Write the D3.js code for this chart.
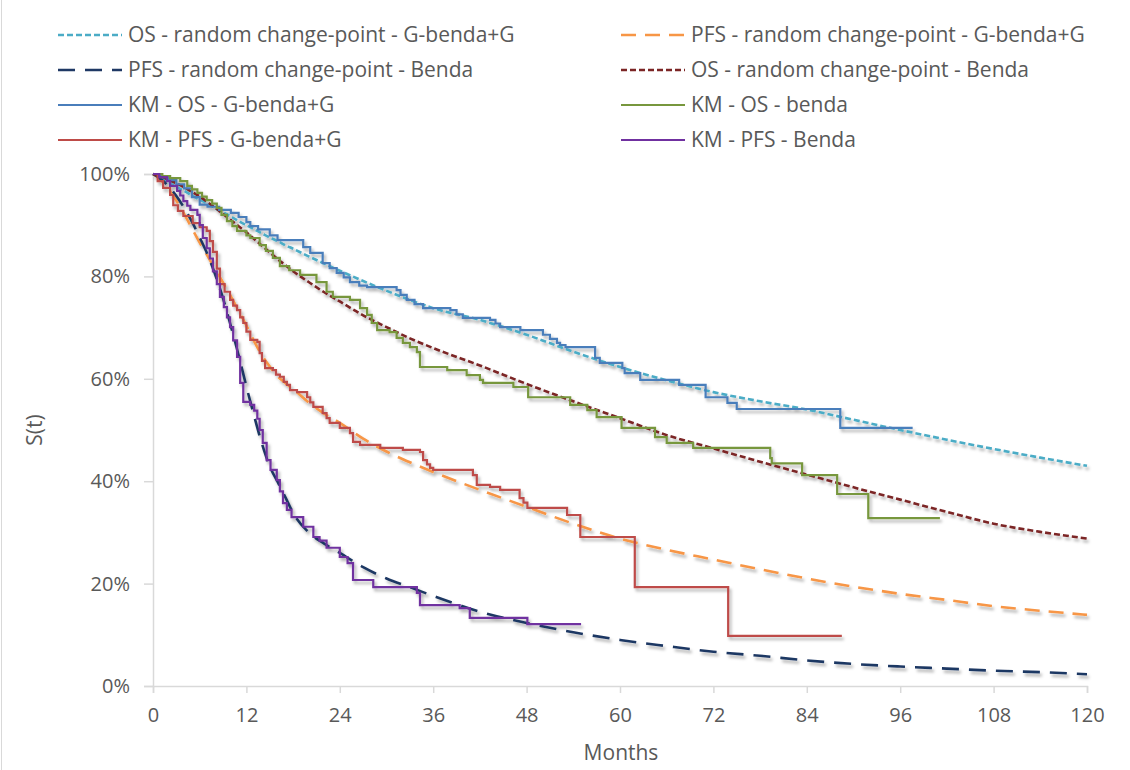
<!DOCTYPE html>
<html><head><meta charset="utf-8">
<script src="https://cdn.jsdelivr.net/npm/d3@7"></script>
<style>
body{margin:0;background:#fff;}
svg{display:block;font-family:"Open Sans","Noto Sans",sans-serif;}
</style></head>
<body><svg id="c" width="1130" height="770"></svg>
<script>
// ---- data ----
const fitMonths = [0,1,2,3,4,5,6,7,8,9,10,11,12,13,14,15,16,17,18,20,22,24,27,30,33,36,42,48,54,60,66,72,78,84,90,96,102,108,114,120];
const osFitGbg  = [100,99.2,98.4,97.5,96.7,95.8,95.0,94.2,93.3,92.5,91.7,90.8,90.0,89.2,88.4,87.6,86.9,86.1,85.4,83.9,82.5,81.1,79.1,77.2,75.4,73.8,71.5,68.6,65.3,62.3,59.7,57.4,55.6,54.0,52.0,50.0,48.1,46.3,44.6,43.0];
const pfsFitGbg = [100,98.8,97.0,94.8,92.2,89.4,86.6,84.0,81.4,78.8,76.1,73.3,70.4,67.3,64.6,62.4,60.5,59.2,58.0,55.4,53.2,51.4,48.3,45.8,43.7,41.8,38.3,35.0,31.7,28.8,26.6,24.7,22.8,21.0,19.4,18.0,16.8,15.6,14.7,13.9];
const pfsFitBenda = [100,99.0,97.6,95.7,93.4,90.7,87.6,84.3,80.3,75.7,70.3,64.6,58.5,52.7,47.3,42.9,39.9,36.9,33.8,30.0,27.8,26.0,23.2,21.0,19.3,17.6,14.5,12.3,10.5,9.0,7.8,6.7,5.9,5.0,4.3,3.8,3.4,3.0,2.7,2.3];
const osFitBenda = [100,99.5,98.9,98.2,97.4,96.5,95.6,94.5,93.4,92.2,91.0,89.8,88.6,87.3,86.0,84.7,83.4,82.2,81.0,78.9,76.9,75.1,72.4,70.1,67.9,66.0,62.6,59.0,55.6,52.3,49.0,46.4,43.8,41.3,38.8,36.4,34.0,31.7,30.1,28.8];

// Kaplan-Meier steps: [month, survival %]
const kmOsGbg = [[0,100],[1,99.4],[2,98.8],[3,98],[4,97.2],[5,95.5],[6,94],[7,93.6],[8.5,93],[10,92.4],[11,91.6],[12,90.6],[12.5,89.8],[13.5,89.2],[15,88],[16,87.1],[19.3,85.7],[20.2,84.6],[21.8,82.6],[22.7,81.6],[23.6,80.7],[24.5,79.8],[25.3,78.9],[26.5,78.2],[27.5,77.9],[31.3,77.3],[31.8,76.4],[32.6,75.4],[33.6,74.6],[34.7,73.8],[38.2,73.4],[39,72.6],[39.8,71.9],[43.3,71.5],[44,70.8],[44.6,70.1],[47.2,69.5],[50.1,68.6],[51,67.8],[51.9,67],[52.3,66.6],[53,66.2],[56.8,64.1],[57.4,63.1],[60.3,62.1],[60.6,61.1],[62.6,59.8],[67.6,58.8],[71,56.4],[73.8,55.3],[75,54.1],[88.3,50.4],[97.6,50.4]];
const kmOsBenda = [[0,100],[1.2,99.6],[2.2,99.2],[3.5,98.6],[4.4,97.7],[5,97],[5.7,96.3],[6.3,95.6],[6.9,94.9],[7.6,94.2],[8.2,93.4],[8.8,92],[9.5,90.8],[10.2,89.8],[10.8,88.9],[12,88],[12.5,87.5],[13.7,86.1],[14.5,85],[15.4,83.6],[16.3,82],[17.5,81.2],[18.9,80.3],[21,78.9],[22.3,77],[23.1,76],[25.3,75.4],[26.6,73.8],[27.5,72.5],[28.1,70.9],[28.8,69.5],[30.4,69.1],[31.3,68],[32.1,67],[33,66.2],[33.9,65.2],[34.3,62.3],[37.8,61.7],[40.3,60.7],[42,59.8],[42.4,59.2],[46.3,58.4],[48.2,56.4],[53.6,54.9],[55.8,53.9],[57,52.5],[60.2,50.4],[64.5,48.6],[66,47.5],[69.4,46.5],[79.3,44.5],[79.5,43.5],[83.4,41.2],[87.9,37.5],[91.9,32.8],[101.1,32.8]];
const kmPfsGbg = [[0,100],[0.6,98.6],[1.3,97.3],[2.2,95.9],[2.6,93.9],[3.2,92.8],[3.9,91.8],[5.1,90.4],[6,89.6],[6.9,88.9],[7.3,86.9],[7.7,84.8],[8.2,81.5],[8.6,78.5],[9.2,77],[9.9,75.4],[10.3,74.3],[10.8,73.4],[11.2,72],[11.6,70.9],[12,69.2],[12.5,67.6],[13.4,67.2],[13.7,65],[14,63.5],[14.4,62.1],[15.4,61.7],[15.8,60.8],[16.3,60.4],[16.8,59.4],[17.2,58.8],[17.6,57.8],[18.5,57.4],[19.8,56.4],[20.2,55.4],[20.6,54.5],[21.8,53.3],[22.3,52.3],[22.7,51.4],[24,50.4],[25.3,49.4],[25.7,47.7],[26.6,47.1],[29.2,46.5],[32.1,46.1],[34.3,45.7],[34.7,44.1],[35.2,43.3],[35.6,42.6],[36,42.2],[41.1,41.2],[41.6,39.3],[43.3,38.9],[44.6,38.3],[47.1,36.7],[47.6,35.8],[48.1,34.8],[53.2,33.4],[54.9,29.1],[61.9,19.3],[73.9,9.8],[88.5,9.8]];
const kmPfsBenda = [[0,100],[0.8,99.4],[1.8,98.6],[2.2,97.7],[3.1,96.7],[3.5,95.8],[3.9,94.7],[4.4,93.8],[4.8,93],[5.7,92],[6,90],[6.4,87.5],[6.9,85.5],[7.3,83.5],[7.7,81],[8.2,78.5],[8.6,76],[9.1,74],[9.5,72],[9.9,70.1],[10.3,67.5],[10.8,64.3],[11.2,59.2],[11.6,55.5],[12.5,54.9],[13,53.8],[13.4,52.2],[13.7,50],[14.1,47.5],[14.6,44.1],[15.1,42.2],[15.9,40.2],[16.3,38],[16.7,35.7],[17.2,34.4],[17.8,33],[19.3,31.1],[20.6,29.1],[21.4,28.4],[22.3,27],[24,25.2],[25,24],[25.7,20.7],[28.3,19.3],[33.9,18.2],[34.3,15.8],[39.4,15.2],[40.7,13.3],[48.1,12.1],[55,12.1]];

const xTicks = [0,12,24,36,48,60,72,84,96,108,120];
const yTicks = [0,20,40,60,80,100];
const seriesNames = ["OS - random change-point - G-benda+G","PFS - random change-point - G-benda+G","PFS - random change-point - Benda","OS - random change-point - Benda","KM - OS - G-benda+G","KM - OS - benda","KM - PFS - G-benda+G","KM - PFS - Benda"];

// ---- chart ----
const svg = d3.select("#c");
const x = d3.scaleLinear().domain([0,120]).range([153,1087]);
const y = d3.scaleLinear().domain([0,100]).range([686,174]);

const defs = svg.append("defs");
const f = defs.append("filter").attr("id","sh").attr("x","-5%").attr("y","-5%").attr("width","110%").attr("height","115%");
f.append("feDropShadow").attr("dx",2).attr("dy",3).attr("stdDeviation",1.8).attr("flood-color","#000").attr("flood-opacity",0.3);

svg.append("line").attr("x1",1.5).attr("x2",1.5).attr("y1",0).attr("y2",770).attr("stroke","#d9d9d9").attr("stroke-width",1);

// axes
const gx = svg.append("g").attr("transform","translate(0,686)")
  .call(d3.axisBottom(x).tickValues(xTicks).tickSize(7).tickPadding(15).tickFormat(d3.format("d")));
const gy = svg.append("g").attr("transform","translate(153,0)")
  .call(d3.axisLeft(y).tickValues(yTicks).tickSize(9).tickPadding(14).tickFormat(d=>d+"%"));
[gx,gy].forEach(g=>{
  g.select(".domain").attr("stroke","#d9d9d9").attr("stroke-width",1.5);
  g.selectAll(".tick line").attr("stroke","#d9d9d9").attr("stroke-width",1.5);
  g.selectAll(".tick text").attr("fill","#595959").attr("font-size",20).attr("font-family","Open Sans, sans-serif");
});

svg.append("text").attr("x",621).attr("y",760).attr("text-anchor","middle").attr("fill","#595959").attr("font-size",21).text("Months");
svg.append("text").attr("transform","translate(42,430) rotate(-90)").attr("text-anchor","middle").attr("fill","#595959").attr("font-size",21).text("S(t)");

const smooth = d3.line().x(d=>x(d[0])).y(d=>y(d[1])).curve(d3.curveMonotoneX);
const step = d3.line().x(d=>x(d[0])).y(d=>y(d[1])).curve(d3.curveStepAfter);
const zip = vals => fitMonths.map((m,i)=>[m,vals[i]]);

const styles = [
  {data:zip(osFitGbg), gen:smooth, color:"#4bacc6", w:2.6, dash:"6,3"},
  {data:zip(pfsFitGbg), gen:smooth, color:"#f79646", w:2.6, dash:"15,9"},
  {data:zip(pfsFitBenda), gen:smooth, color:"#1f3864", w:2.6, dash:"17,10"},
  {data:zip(osFitBenda), gen:smooth, color:"#7b2525", w:2.6, dash:"6,3"},
  {data:kmOsGbg, gen:step, color:"#4a7ebb", w:2.2, dash:null},
  {data:kmOsBenda, gen:step, color:"#77973d", w:2.2, dash:null},
  {data:kmPfsGbg, gen:step, color:"#be4b48", w:2.2, dash:null},
  {data:kmPfsBenda, gen:step, color:"#7030a0", w:2.2, dash:null}
];

const plot = svg.append("g").attr("filter","url(#sh)");
styles.forEach(s=>{
  plot.append("path").attr("d",s.gen(s.data)).attr("fill","none")
    .attr("stroke",s.color).attr("stroke-width",s.w)
    .attr("stroke-dasharray",s.dash).attr("stroke-linejoin","miter");
});

// legend
const legPos = [[58,35],[621,35],[58,70],[621,70],[58,105],[621,105],[58,140],[621,140]];
const leg = svg.append("g");
styles.forEach((s,i)=>{
  const [lx,ly] = legPos[i];
  leg.append("line").attr("x1",lx).attr("x2",lx+64).attr("y1",ly).attr("y2",ly)
    .attr("stroke",s.color).attr("stroke-width",s.w).attr("stroke-dasharray",s.dash);
  leg.append("text").attr("x",lx+70).attr("y",ly).attr("dy","0.35em")
    .attr("fill","#595959").attr("font-size",21).text(seriesNames[i]);
});
</script></body></html>
